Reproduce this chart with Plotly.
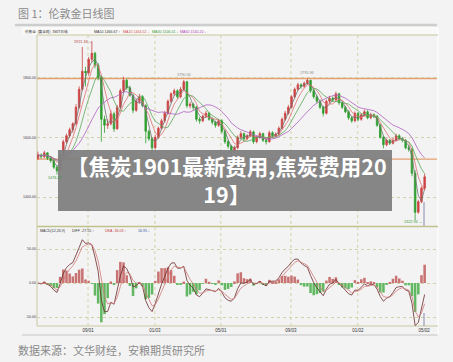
import plotly.graph_objects as go
import pandas as pd

W, H = 453, 362

# ---------------- data ----------------
opens = [1530, 1541, 1535, 1548, 1530, 1522, 1500, 1488, 1540, 1585,
         1605, 1625, 1645, 1700, 1760, 1820, 1815, 1860, 1880, 1840,
         1800, 1660, 1640, 1645, 1678, 1628, 1700, 1755, 1790, 1765,
         1740, 1690, 1720, 1735, 1705, 1620, 1595, 1565, 1600, 1630,
         1655, 1680, 1720, 1745, 1755, 1735, 1760, 1785, 1705, 1710,
         1700, 1660, 1655, 1670, 1680, 1660, 1650, 1640, 1655, 1620,
         1585, 1570, 1555, 1565, 1600, 1612, 1595, 1605, 1618, 1585,
         1600, 1612, 1590, 1585, 1615, 1605, 1610, 1630, 1660, 1680,
         1700, 1735, 1760, 1775, 1770, 1780, 1790, 1755, 1735, 1720,
         1700, 1680, 1720, 1730, 1725, 1745, 1715, 1700, 1685, 1665,
         1655, 1680, 1660, 1675, 1685, 1665, 1675, 1670, 1640, 1600,
         1575, 1590, 1580, 1590, 1605, 1595, 1590, 1565, 1560, 1480,
         1350, 1385, 1430]
highs = [1552, 1546, 1555, 1550, 1538, 1528, 1505, 1545, 1592, 1612,
         1632, 1650, 1710, 1770, 1901, 1835, 1868, 1921, 1885, 1848,
         1805, 1672, 1660, 1690, 1685, 1708, 1762, 1802, 1795, 1772,
         1745, 1728, 1745, 1740, 1710, 1625, 1600, 1608, 1636, 1662,
         1688, 1726, 1750, 1762, 1760, 1768, 1791, 1788, 1718, 1715,
         1705, 1668, 1676, 1688, 1685, 1666, 1655, 1662, 1660, 1626,
         1592, 1575, 1572, 1606, 1620, 1616, 1610, 1625, 1622, 1606,
         1618, 1615, 1596, 1622, 1620, 1616, 1636, 1666, 1688, 1708,
         1740, 1766, 1782, 1780, 1786, 1796, 1792, 1760, 1742, 1726,
         1705, 1726, 1738, 1736, 1752, 1748, 1720, 1705, 1690, 1670,
         1686, 1684, 1680, 1692, 1690, 1682, 1680, 1674, 1645, 1605,
         1596, 1594, 1598, 1612, 1610, 1600, 1594, 1575, 1564, 1490,
         1392, 1436, 1478]
lows = [1524, 1528, 1530, 1524, 1515, 1494, 1476, 1485, 1536, 1578,
        1598, 1615, 1640, 1695, 1755, 1770, 1805, 1850, 1830, 1790,
        1585, 1615, 1628, 1640, 1618, 1625, 1695, 1748, 1758, 1735,
        1680, 1685, 1712, 1700, 1580, 1588, 1548, 1560, 1595, 1625,
        1648, 1675, 1714, 1738, 1728, 1730, 1755, 1698, 1696, 1690,
        1652, 1645, 1650, 1664, 1655, 1642, 1632, 1635, 1612, 1578,
        1562, 1541, 1548, 1560, 1594, 1588, 1590, 1600, 1578, 1580,
        1595, 1584, 1576, 1582, 1598, 1600, 1606, 1626, 1655, 1675,
        1696, 1730, 1755, 1762, 1764, 1775, 1748, 1728, 1714, 1694,
        1670, 1676, 1714, 1718, 1720, 1708, 1694, 1680, 1658, 1648,
        1650, 1654, 1655, 1670, 1660, 1660, 1664, 1634, 1595, 1563,
        1570, 1574, 1576, 1585, 1590, 1583, 1560, 1552, 1470, 1323,
        1345, 1380, 1424]
closes = [1541, 1535, 1548, 1530, 1522, 1500, 1488, 1540, 1585, 1605,
          1625, 1645, 1700, 1760, 1820, 1815, 1860, 1880, 1840, 1800,
          1660, 1640, 1645, 1678, 1628, 1700, 1755, 1790, 1765, 1740,
          1690, 1720, 1735, 1705, 1620, 1595, 1565, 1600, 1630, 1655,
          1680, 1720, 1745, 1755, 1735, 1760, 1785, 1705, 1710, 1700,
          1660, 1655, 1670, 1680, 1660, 1650, 1640, 1655, 1620, 1585,
          1570, 1555, 1565, 1600, 1612, 1595, 1605, 1618, 1585, 1600,
          1612, 1590, 1585, 1615, 1605, 1610, 1630, 1660, 1680, 1700,
          1735, 1760, 1775, 1770, 1780, 1790, 1755, 1735, 1720, 1700,
          1680, 1720, 1730, 1725, 1745, 1715, 1700, 1685, 1665, 1655,
          1680, 1660, 1675, 1685, 1665, 1675, 1670, 1640, 1600, 1575,
          1590, 1580, 1590, 1605, 1595, 1590, 1565, 1560, 1480, 1350,
          1385, 1430, 1468]

ma_names = ["MA10", "MA20", "MA30", "MA60"]
ma_windows = [3, 5, 8, 15]          # candle-count equivalents
ma_header = ["MA10 1466.67 ↑", "MA20 1464.52 ↓", "MA30 1506.41 ↓", "MA60 1540.20 ↓"]

price_ticks = [1400, 1600, 1800]
price_tick_text = ["1400.00", "1600.00", "1800.00"]
macd_ticks = [-50, 0, 50]
macd_tick_text = ["-50.00", "0.00", "50.00"]

x_tick_pos = [15.8, 36.9, 57.7, 79.8, 100.9, 121.8]
x_tick_text = ["09/01", "01/03", "05/01", "09/03", "01/02", "05/02"]

level_lines = [1796, 1527]

price_labels = [("1921.18 ←", 14.5, 1918, "#b84040"), ("1476.22", 5.5, 1465, "#3a9a3a"),
                ("1790.56", 46, 1808, "#888888"), ("1795.96", 85, 1815, "#888888"),
                ("1322.94 ←", 118.6, 1318, "#3a9a3a")]

title_text = "图 1：伦敦金日线图"
source_text = "数据来源：文华财经，安粮期货研究所"
banner_text = "【焦炭1901最新费用,焦炭费用20<br>19】"
header_name = "伦敦金  (黄金现)  360T日线"
macd_header = [("MACD(12,26,9)", "#333333"), ("DIFF -27.55 ↑", "#333333"),
               ("DEA -36.03 ↑", "#c04040"), ("16.95 ↓", "#3050a0")]

# ---------------- derived indicators ----------------
x = list(range(len(closes)))
s = pd.Series(closes, dtype=float)
mas = [s.rolling(w, min_periods=1).mean() for w in ma_windows]
ema_f = s.ewm(span=3, adjust=False).mean()
ema_s = s.ewm(span=6.5, adjust=False).mean()
diff = ema_f - ema_s
dea = diff.ewm(span=3, adjust=False).mean()
hist = 2 * (diff - dea)

# ---------------- figure ----------------
def px(xp):
    return xp / W

def py(yp):
    return 1 - yp / H

X0, X1 = 37, 437
MAIN_T, MAIN_B = 35, 226
MACD_T, MACD_B = 227, 326
BG = "#f3f3f3"
GRID = "#d2d2aa"
AXC = "#c8c8a0"

fig = go.Figure()

fig.add_trace(go.Candlestick(
    x=x, open=opens, high=highs, low=lows, close=closes,
    increasing=dict(line=dict(color="#cc4444", width=0.8), fillcolor="#cc4444"),
    decreasing=dict(line=dict(color="#2e9e2e", width=0.8), fillcolor="#2e9e2e"),
    whiskerwidth=0, xaxis="x", yaxis="y", showlegend=False, hoverinfo="skip"))

ma_colors = ["#707070", "#e07070", "#5aa85a", "#b060c0"]
for m, c in zip(mas, ma_colors):
    fig.add_trace(go.Scatter(x=x, y=m, mode="lines", line=dict(color=c, width=0.8),
                             xaxis="x", yaxis="y", showlegend=False, hoverinfo="skip"))

bar_colors = ["#c87272" if v >= 0 else "#62b862" for v in hist]
fig.add_trace(go.Bar(x=x, y=hist, marker=dict(color=bar_colors, line=dict(width=0)),
                     xaxis="x2", yaxis="y2", showlegend=False, hoverinfo="skip"))
fig.add_trace(go.Scatter(x=x, y=diff, mode="lines", line=dict(color="#6a2a2a", width=0.8),
                         xaxis="x2", yaxis="y2", showlegend=False, hoverinfo="skip"))
fig.add_trace(go.Scatter(x=x, y=dea, mode="lines", line=dict(color="#d07878", width=0.8),
                         xaxis="x2", yaxis="y2", showlegend=False, hoverinfo="skip"))

xr = [-0.3, 125.9]
price_range = [1304, 1941]
macd_range = [-63.2, 82.4]

fig.update_layout(
    width=W, height=H, margin=dict(l=0, r=0, t=0, b=0),
    paper_bgcolor=BG, plot_bgcolor=BG, bargap=0.2,
    xaxis=dict(domain=[px(X0), px(X1)], range=xr, showticklabels=False, showgrid=False,
               zeroline=False, rangeslider=dict(visible=False), anchor="y", fixedrange=True),
    yaxis=dict(domain=[py(MAIN_B), py(MAIN_T)], range=price_range, tickvals=price_ticks,
               ticktext=price_tick_text, showgrid=True, gridcolor=GRID, griddash="dot",
               gridwidth=1, zeroline=False, ticks="", tickfont=dict(size=3.6, color="#444",
               family="Arial"), anchor="x", showline=False),
    xaxis2=dict(domain=[px(X0), px(X1)], range=xr, tickvals=x_tick_pos, ticktext=x_tick_text,
                showgrid=False, zeroline=False, ticks="", anchor="y2", matches="x",
                tickfont=dict(size=4.5, color="#333", family="Arial Black, Arial")),
    yaxis2=dict(domain=[py(MACD_B), py(MACD_T)], range=macd_range, tickvals=macd_ticks,
                ticktext=macd_tick_text, showgrid=True, gridcolor=GRID, griddash="dot",
                zeroline=False, ticks="", tickfont=dict(size=3.6, color="#444", family="Arial"),
                anchor="x2"),
    font=dict(family="Noto Sans CJK SC"),
)

shapes = []
def pline(x0, y0, x1, y1, color, width=1, dash="solid", layer="below"):
    shapes.append(dict(type="line", xref="paper", yref="paper", x0=px(x0), y0=py(y0),
                       x1=px(x1), y1=py(y1), line=dict(color=color, width=width, dash=dash),
                       layer=layer))

# title underline
pline(15, 25, 437, 25, "#cdcdcd", 2.5)
# chart frame & header row
shapes.append(dict(type="rect", xref="paper", yref="paper", x0=px(22), x1=px(438),
                   y0=py(35), y1=py(28), fillcolor="#f8f8f6", line=dict(width=0), layer="below"))
pline(22, 28, 438, 28, "#ffffff", 1.2)
pline(22, 335, 438, 335, "#d4d4d4", 1.5)
pline(438, 28, 438, 335, "#ffffff", 1.2)
pline(X0, MAIN_T, 438, MAIN_T, AXC, 1)
pline(X0, MAIN_B + 0.5, 438, MAIN_B + 0.5, "#c2c28c", 1.5)
pline(X0, MAIN_T, X0, MACD_B, AXC, 1)
pline(X0, MACD_B, 438, MACD_B, AXC, 1)
# vertical dotted gridlines
for t in x_tick_pos[:-1]:
    shapes.append(dict(type="line", xref="x", yref="paper", x0=t, x1=t, y0=py(MACD_B),
                       y1=py(MAIN_T), line=dict(color=GRID, width=1, dash="dot"), layer="below"))
# support / resistance levels
for lv in level_lines:
    shapes.append(dict(type="line", xref="paper", yref="y", x0=px(X0), x1=px(X1), y0=lv, y1=lv,
                       line=dict(color="#e6a070", width=1.4), layer="below"))
# cursor
shapes.append(dict(type="line", xref="x", yref="paper", x0=121.8, x1=121.8, y0=py(MAIN_B),
                   y1=py(202), line=dict(color="#8a8ab0", width=1)))
shapes.append(dict(type="line", xref="x", yref="paper", x0=121.8, x1=121.8, y0=py(MACD_B),
                   y1=py(313), line=dict(color="#8a8ab0", width=1)))
# banner
shapes.append(dict(type="rect", xref="paper", yref="paper", x0=px(58), x1=px(392), y0=py(211),
                   y1=py(150), fillcolor="rgba(128,128,128,0.95)", line=dict(width=0),
                   layer="above"))
fig.update_layout(shapes=shapes)

ann = []
def A(text, xp, yp, size, color, xanchor="left", family="Noto Sans CJK SC"):
    ann.append(dict(text=text, x=px(xp), y=py(yp), xref="paper", yref="paper",
                    xanchor=xanchor, yanchor="middle", showarrow=False,
                    font=dict(size=size, color=color, family=family)))

A(title_text, 16, 13, 11, "#8a8a8a")
A(source_text, 16, 350, 11, "#8a8a8a")
A(header_name, 23, 31.5, 3.6, "#333333")
hx = [92, 121, 150, 178]
for t, c, xx in zip(ma_header, ["#333333", "#d05050", "#3a9a3a", "#b040c0"], hx):
    A(t, xx, 31.5, 3.6, c, family="Arial")
mx = [38, 70, 103, 136]
for (t, c), xx in zip(macd_header, mx):
    A(t, xx, 231, 3.6, c, family="Arial")
for t, xi, yv, c in price_labels:
    ann.append(dict(text=t, x=xi, y=yv, xref="x", yref="y", xanchor="center",
                    yanchor="middle", showarrow=False, font=dict(size=3.8, color=c, family="Arial")))
ann.append(dict(text="<b>" + banner_text + "</b>", x=px(227), y=py(179), xref="paper",
                yref="paper", xanchor="center", yanchor="middle", showarrow=False,
                align="center", font=dict(size=21.5, color="white", family="Noto Sans CJK SC")))
fig.update_layout(annotations=ann)

fig.write_html("out.html")
